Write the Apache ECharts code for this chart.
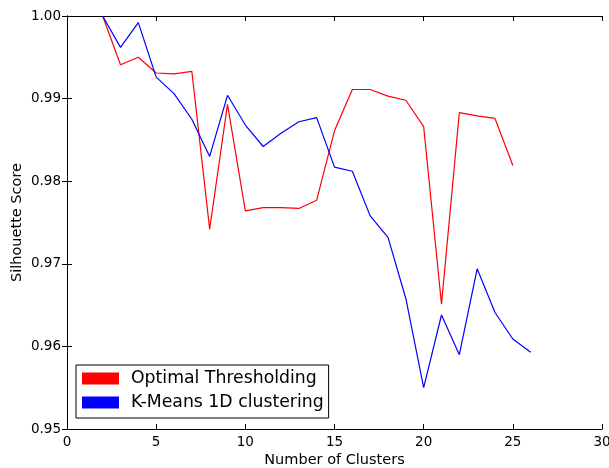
<!DOCTYPE html>
<html><head><meta charset="utf-8">
<script src="https://cdn.jsdelivr.net/npm/echarts@6/dist/echarts.min.js"></script>
<style>html,body{margin:0;padding:0;background:#fff}#c{width:609px;height:468px}</style>
</head><body><div id="c"></div>
<script>
const clusters = [2,3,4,5,6,7,8,9,10,11,12,13,14,15,16,17,18,19,20,21,22,23,24,25,26];
const optimalThresholding = [1.000,0.9941,0.9950,0.9931,0.9930,0.9933,0.9742,0.9893,0.9764,0.9768,0.9768,0.9767,0.9777,0.9861,0.9911,0.9911,0.9903,0.9898,0.9866,0.9651,0.9883,0.9879,0.9876,0.9819,null];
const kMeans1D = [1.000,0.9962,0.9992,0.9926,0.9906,0.9875,0.9830,0.9904,0.9868,0.9842,0.9858,0.9872,0.9877,0.9817,0.9812,0.9758,0.9732,0.9658,0.9550,0.9638,0.9590,0.9694,0.9641,0.9609,0.9593];
const seriesNames = ['Optimal Thresholding','K-Means 1D clustering'];
const xTitle = 'Number of Clusters';
const yTitle = 'Silhouette Score';

const toPairs = arr => clusters.map((c,i)=>[c,arr[i]]).filter(p=>p[1]!==null);
const font = 'DejaVu Sans';
const chart = echarts.init(document.getElementById('c'));
const axisLine = {show:true, lineStyle:{color:'#000', width:1}};
const tick = {show:true, inside:true, length:5, lineStyle:{color:'#000'}};
chart.setOption({
  animation:false,
  grid:{left:67, right:7, top:16, bottom:39, containLabel:false, outerBoundsMode:'none'},
  legend:{
    orient:'vertical', left:76, top:365,
    data:seriesNames.map(n=>({name:n, icon:'rect'})),
    itemWidth:37, itemHeight:12, itemGap:7,
    padding:[5,5,7,6],
    borderColor:'#000', borderWidth:1, borderRadius:0,
    textStyle:{fontFamily:font, fontSize:17.3, color:'#000', padding:[0,0,0,7]}
  },
  xAxis:[
    {type:'value', min:0, max:30, interval:5, position:'bottom',
     name:xTitle, nameLocation:'middle', nameGap:24, nameMoveOverlap:false,
     nameTextStyle:{fontFamily:font, fontSize:14.5, color:'#000'},
     axisLine, axisTick:tick, splitLine:{show:false},
     axisLabel:{fontFamily:font, fontSize:13.5, color:'#000', margin:6}},
    {type:'value', min:0, max:30, interval:5, position:'top',
     axisLine, axisTick:tick, splitLine:{show:false}, axisLabel:{show:false}}
  ],
  yAxis:[
    {type:'value', min:0.95, max:1.0, interval:0.01, position:'left',
     name:yTitle, nameLocation:'middle', nameGap:42, nameMoveOverlap:false,
     nameTextStyle:{fontFamily:font, fontSize:14.5, color:'#000'},
     axisLine, axisTick:tick, splitLine:{show:false},
     axisLabel:{fontFamily:font, fontSize:13.5, color:'#000', margin:6, formatter:v=>v.toFixed(2)}},
    {type:'value', min:0.95, max:1.0, interval:0.01, position:'right',
     axisLine, axisTick:tick, splitLine:{show:false}, axisLabel:{show:false}}
  ],
  series:[
    {name:seriesNames[0], type:'line', data:toPairs(optimalThresholding), showSymbol:false,
     lineStyle:{color:'#ff0000', width:1.2}, itemStyle:{color:'#ff0000'}},
    {name:seriesNames[1], type:'line', data:toPairs(kMeans1D), showSymbol:false,
     lineStyle:{color:'#0000ff', width:1.2}, itemStyle:{color:'#0000ff'}}
  ]
});
</script></body></html>
